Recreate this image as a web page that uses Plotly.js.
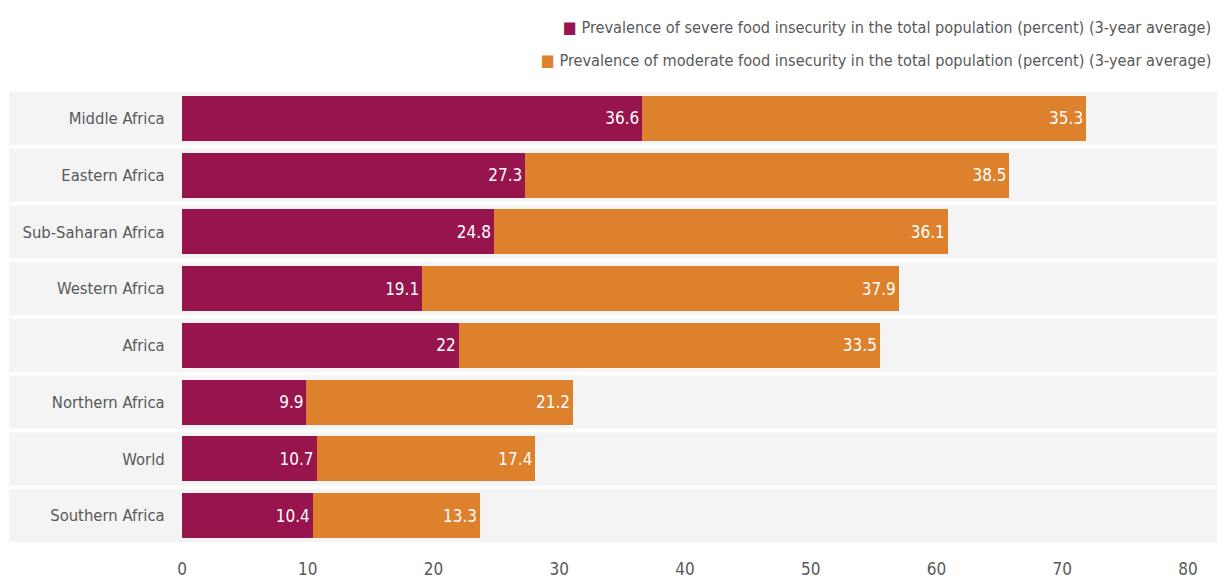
<!DOCTYPE html>
<html>
<head>
<meta charset="utf-8">
<script src="https://cdn.plot.ly/plotly-3.0.1.min.js"></script>
<style>
html,body{margin:0;padding:0;background:#fff;}
#chart{width:1217px;height:578px;}
#chart svg text{font-stretch:condensed !important;}
</style>
</head>
<body>
<div id="chart"></div>
<script>
const categories = ["Middle Africa", "Eastern Africa", "Sub-Saharan Africa", "Western Africa", "Africa", "Northern Africa", "World", "Southern Africa"];
const severe = [36.6, 27.3, 24.8, 19.1, 22, 9.9, 10.7, 10.4];
const moderate = [35.3, 38.5, 36.1, 37.9, 33.5, 21.2, 17.4, 13.3];
const seriesNames = [
  "Prevalence of severe food insecurity in the total population (percent) (3-year average)",
  "Prevalence of moderate food insecurity in the total population (percent) (3-year average)"
];
const xTicks = [0, 10, 20, 30, 40, 50, 60, 70, 80];

const FONT = "'DejaVu Sans Condensed', 'DejaVu Sans', sans-serif";
const C_SEV = "#97144C", C_MOD = "#DD812D", TXT = "#595959";

function bar(vals, name, color) {
  return {
    type: "bar", orientation: "h", name: name,
    y: categories, x: vals,
    width: 0.79,
    marker: {color: color, line: {width: 0}},
    text: vals.map(String), textposition: "inside", insidetextanchor: "end",
    textfont: {family: FONT, size: 17, color: "#ffffff"},
    constraintext: "none", cliponaxis: false, hoverinfo: "skip"
  };
}

const shapes = categories.map((c, i) => ({
  type: "rect", layer: "below", xref: "paper", yref: "y",
  x0: -173/1006, x1: 1 + 29/1006, y0: i - 0.47, y1: i + 0.47,
  fillcolor: "#F4F4F4", line: {width: 0}
}));

const annotations = [
  {text: '<span style="color:' + C_SEV + '">■</span> ' + seriesNames[0], y: 1.138},
  {text: '<span style="color:' + C_MOD + '">■</span> ' + seriesNames[1], y: 1.066}
].map(a => ({
  xref: "paper", yref: "paper", x: 1 + 25/1006, xanchor: "right", yanchor: "middle",
  y: a.y, text: a.text, showarrow: false,
  font: {family: FONT, size: 16.2, color: TXT}
}));

const layout = {
  width: 1217, height: 578,
  margin: {l: 182, r: 29, t: 90, b: 34},
  paper_bgcolor: "#ffffff", plot_bgcolor: "rgba(0,0,0,0)",
  barmode: "stack", showlegend: false,
  xaxis: {
    range: [0, 80], tickvals: xTicks, ticktext: xTicks.map(String),
    showgrid: false, zeroline: false, showline: false,
    ticks: "outside", ticklen: 10, tickcolor: "rgba(0,0,0,0)",
    tickfont: {family: FONT, size: 17, color: TXT}, fixedrange: true
  },
  yaxis: {
    type: "category", categoryorder: "array", categoryarray: categories,
    autorange: false, range: [7.5, -0.5],
    showgrid: false, zeroline: false, showline: false,
    ticks: "outside", ticklen: 13, tickcolor: "rgba(0,0,0,0)",
    tickfont: {family: FONT, size: 16.5, color: TXT}, fixedrange: true
  },
  shapes: shapes,
  annotations: annotations
};

Plotly.newPlot("chart", [bar(severe, seriesNames[0], C_SEV), bar(moderate, seriesNames[1], C_MOD)], layout, {displayModeBar: false, staticPlot: true});
</script>
</body>
</html>
